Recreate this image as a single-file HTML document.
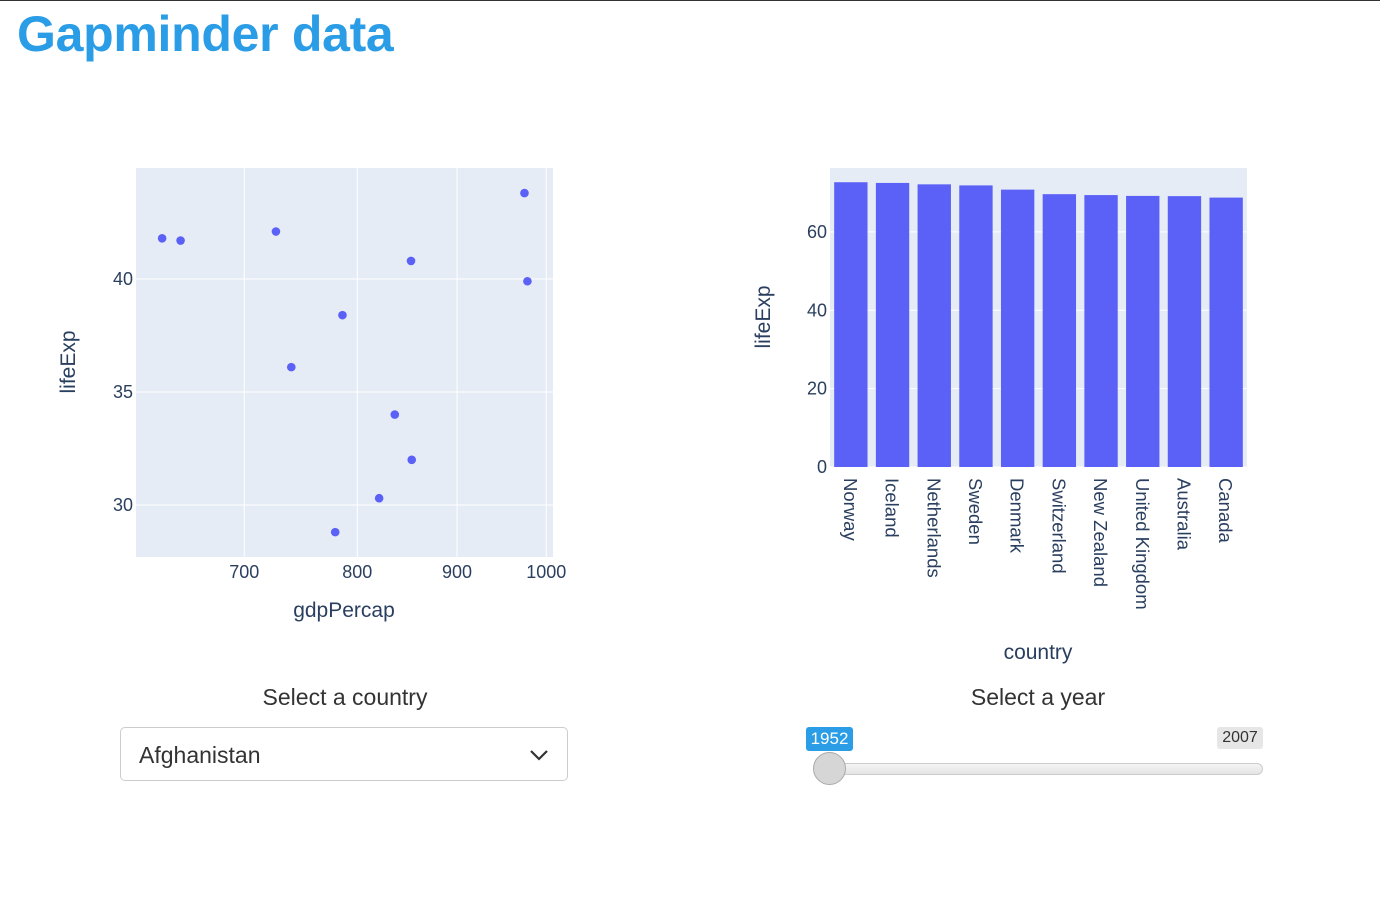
<!DOCTYPE html>
<html><head><meta charset="utf-8">
<style>
body{margin:0;width:1380px;height:920px;background:#fff;font-family:"Liberation Sans",sans-serif;position:relative;overflow:hidden;border-top:1px solid #333;box-sizing:border-box}
h1{position:absolute;left:17px;top:4px;margin:0;font-size:50px;font-weight:bold;color:#2a9de6;letter-spacing:-0.3px}
.lbl{position:absolute;font-size:23px;color:#333;text-align:center}
svg text{font-family:"Liberation Sans",sans-serif;fill:#2a3f5f}
</style></head><body>
<h1>Gapminder data</h1>
<svg id="sc" width="690" height="650" style="position:absolute;left:0;top:-1px"></svg>
<svg id="bc" width="690" height="680" style="position:absolute;left:690px;top:-1px"></svg>
<div class="lbl" style="left:120px;width:450px;top:683px">Select a country</div>
<div style="position:absolute;left:120px;top:726px;width:448px;height:54px;border:1px solid #ccc;border-radius:5px;box-sizing:border-box">
<span style="position:absolute;left:18px;top:14px;font-size:23px;color:#333">Afghanistan</span>
<svg width="20" height="14" style="position:absolute;left:408px;top:20px"><path d="M2 3 L10 11 L18 3" stroke="#333" stroke-width="2.2" fill="none"/></svg>
</div>
<div class="lbl" style="left:813px;width:450px;top:683px">Select a year</div>
<div style="position:absolute;left:814px;top:762px;width:449px;height:12px;border:1px solid #ccc;border-radius:7px;background:linear-gradient(#f4f4f4,#e4e4e4);box-sizing:border-box"></div>
<div style="position:absolute;left:813px;top:751px;width:33px;height:33px;border-radius:50%;background:#d6d6d6;border:1px solid #aaa;box-sizing:border-box"></div>
<div style="position:absolute;left:806px;top:726px;width:47px;height:24px;background:#2a9de6;color:#fff;border-radius:3px;font-size:17px;text-align:center;line-height:24px">1952</div>
<div style="position:absolute;left:1217px;top:726px;width:46px;height:22px;background:#e6e6e6;color:#333;border-radius:3px;font-size:16px;text-align:center;line-height:22px">2007</div>
<script>
const NS="http://www.w3.org/2000/svg";
function mk(p,t,a){const e=document.createElementNS(NS,t);for(const k in a)e.setAttribute(k,a[k]);p.appendChild(e);return e;}
// scatter data
const gdpPercap=[779.4,820.9,853.1,836.2,740.0,786.1,978.0,852.4,649.3,635.3,726.7,974.6];
const lifeExp=[28.8,30.3,32.0,34.0,36.1,38.4,39.9,40.8,41.7,41.8,42.1,43.8];
const xTicks=[700,800,900,1000];
const yTicks=[30,35,40];
// bar data
const countries=["Norway","Iceland","Netherlands","Sweden","Denmark","Switzerland","New Zealand","United Kingdom","Australia","Canada"];
const barLife=[72.67,72.49,72.13,71.86,70.78,69.62,69.39,69.18,69.12,68.75];
const barTicks=[0,20,40,60];

const sc=document.getElementById('sc');
const L=136,R=553,T=168,B=557;
const lx0=Math.log10(616),lx1=Math.log10(1008);
const sx=v=>L+(Math.log10(v)-lx0)/(lx1-lx0)*(R-L);
const y0=27.7,y1=44.91;
const sy=v=>B-(v-y0)/(y1-y0)*(B-T);
let bg=mk(sc,'rect',{x:L,y:T,width:R-L,height:B-T,fill:'#e5ecf6'});


xTicks.forEach(t=>{const x=sx(t);
 let g=mk(sc,'line',{x1:x,x2:x,y1:T,y2:B,stroke:'#fff','stroke-width':1});
 
 
 let tx=mk(sc,'text',{x:x,y:578,'text-anchor':'middle','font-size':18});tx.textContent=t;
 
 });
yTicks.forEach(t=>{const y=sy(t);
 let g=mk(sc,'line',{x1:L,x2:R,y1:y,y2:y,stroke:'#fff','stroke-width':1});
 
 
 let tx=mk(sc,'text',{x:L-3,y:y+6,'text-anchor':'end','font-size':18});tx.textContent=t;
 
 });
gdpPercap.forEach((g,i)=>{let c=mk(sc,'circle',{cx:sx(g),cy:sy(lifeExp[i]),r:4.3,fill:'#5b60f6'});
 
 });
let xt=mk(sc,'text',{x:344,y:617,'text-anchor':'middle','font-size':21});xt.textContent='gdpPercap';


let yt=mk(sc,'text',{x:0,y:0,'text-anchor':'middle','font-size':21,transform:'translate(75,362) rotate(-90)'});yt.textContent='lifeExp';



const bc=document.getElementById('bc');
const bL=140,bR=557,bT=168,bB=467,bMax=76.3;
const by=v=>bB-v/bMax*(bB-bT);
const step=(bR-bL)/countries.length;
let bbg=mk(bc,'rect',{x:bL,y:bT,width:bR-bL,height:bB-bT,fill:'#e5ecf6'});


barTicks.forEach(t=>{const y=by(t);
 let g=mk(bc,'line',{x1:bL,x2:bR,y1:y,y2:y,stroke:'#fff','stroke-width':1});
 
 
 let tx=mk(bc,'text',{x:bL-3,y:y+6,'text-anchor':'end','font-size':18});tx.textContent=t;
 
 });
countries.forEach((c,i)=>{const cx=bL+step*(i+0.5);
 let r=mk(bc,'rect',{x:cx-step*0.4,y:by(barLife[i]),width:step*0.8,height:bB-by(barLife[i]),fill:'#5b60f6'});
 
 
 let tx=mk(bc,'text',{x:0,y:0,'font-size':18.5,transform:`translate(${cx-7},478) rotate(90)`});tx.textContent=c;
 
 });
let bxt=mk(bc,'text',{x:348,y:659,'text-anchor':'middle','font-size':21});bxt.textContent='country';


let byt=mk(bc,'text',{x:0,y:0,'text-anchor':'middle','font-size':21,transform:'translate(80,317) rotate(-90)'});byt.textContent='lifeExp';


</script>
</body></html>
